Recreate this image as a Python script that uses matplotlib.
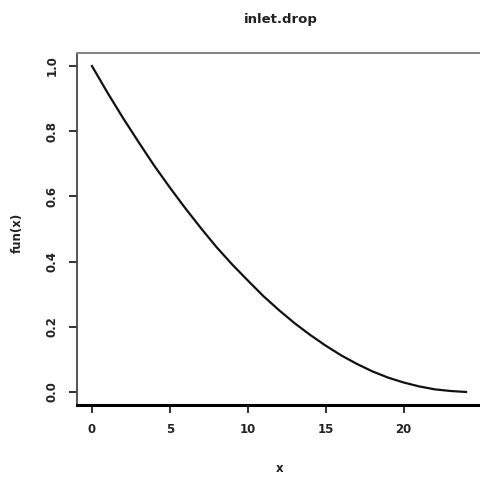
import matplotlib
matplotlib.use('Agg')
import matplotlib.pyplot as plt

# values
x_vals = [0, 1, 2, 3, 4, 5, 6, 7, 8, 9, 10, 11, 12,
          13, 14, 15, 16, 17, 18, 19, 20, 21, 22, 23, 24]
y_vals = [1.000, 0.918, 0.840, 0.766, 0.694, 0.627, 0.563, 0.502, 0.444,
          0.391, 0.342, 0.294, 0.251, 0.211, 0.175, 0.142, 0.112, 0.086,
          0.063, 0.044, 0.029, 0.017, 0.008, 0.003, 0.000]
x_ticks = [0, 5, 10, 15, 20]
y_ticks = [0.0, 0.2, 0.4, 0.6, 0.8, 1.0]

fig = plt.figure(figsize=(4.8, 4.8), dpi=100)
ax = fig.add_axes([77 / 480, 75 / 480, 404 / 480, 352 / 480])

ax.plot(x_vals, y_vals, color='#111111', linewidth=1.6, solid_joinstyle='round')
ax.set_xlim(-0.96, 24.96)
ax.set_ylim(-0.04, 1.04)

ax.set_xticks(x_ticks)
ax.set_xticklabels([str(t) for t in x_ticks])
ax.set_yticks(y_ticks)
ax.set_yticklabels(['%.1f' % t for t in y_ticks], rotation=90, va='center')
ax.tick_params(direction='out', length=6, width=1.3, color='#222222',
               labelsize=8.5, pad=7)
for lab in ax.get_xticklabels() + ax.get_yticklabels():
    lab.set_fontweight('bold')
    lab.set_color('#222222')

ax.spines['top'].set_color('#888888')
ax.spines['top'].set_linewidth(1.5)
ax.spines['left'].set_color('#444444')
ax.spines['left'].set_linewidth(1.3)
ax.spines['bottom'].set_color('#000000')
ax.spines['bottom'].set_linewidth(2.2)
ax.spines['right'].set_visible(False)

fig.text(281 / 480, 1 - 20 / 480, 'inlet.drop', ha='center', va='center',
         fontsize=9.5, fontweight='bold', color='#222222')
fig.text(280 / 480, 1 - 468 / 480, 'x', ha='center', va='center',
         fontsize=8.5, fontweight='bold', color='#222222')
fig.text(17 / 480, 1 - 233 / 480, 'fun(x)', ha='center', va='center',
         rotation=90, fontsize=8.5, fontweight='bold', color='#222222')

fig.savefig('out.png', dpi=100)
